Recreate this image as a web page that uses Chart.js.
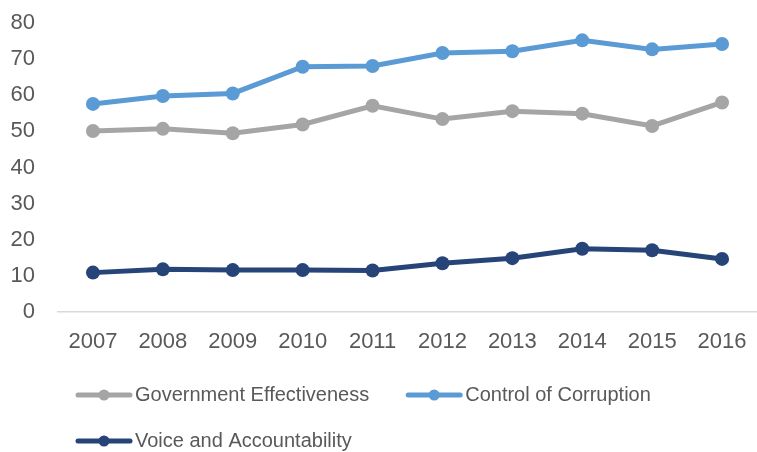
<!DOCTYPE html>
<html>
<head>
<meta charset="utf-8">
<script src="https://cdn.jsdelivr.net/npm/chart.js@4/dist/chart.umd.min.js"></script>
<style>
  html, body { margin: 0; padding: 0; background: #fff; }
  #wrap { width: 757px; height: 452px; position: relative; }
</style>
</head>
<body>
<div id="wrap"><canvas id="c" width="757" height="452"></canvas></div>
<script>
const years = ['2007','2008','2009','2010','2011','2012','2013','2014','2015','2016'];
const govEffectiveness = [50.1, 50.7, 49.5, 51.9, 57.1, 53.4, 55.6, 54.9, 51.5, 58.0];
const controlCorruption = [57.6, 59.8, 60.5, 67.9, 68.1, 71.7, 72.2, 75.2, 72.7, 74.2];
const voiceAccountability = [10.9, 11.8, 11.6, 11.6, 11.5, 13.5, 14.9, 17.5, 17.1, 14.7];
const seriesNames = ['Government Effectiveness', 'Control of Corruption', 'Voice and Accountability'];
const seriesColors = ['#A5A5A5', '#5B9BD5', '#264478'];
const yTicks = [0, 10, 20, 30, 40, 50, 60, 70, 80];

const FONT = "'Liberation Sans', Arial, sans-serif";
const TEXT = '#595959';

function ds(label, data, color) {
  return {
    label, data,
    borderColor: color, backgroundColor: color,
    pointBackgroundColor: color, pointBorderColor: color,
    borderWidth: 5, pointRadius: 7, pointHoverRadius: 7, pointBorderWidth: 0,
    tension: 0, fill: false
  };
}

const legendPlugin = {
  id: 'customLegend',
  afterDraw(chart) {
    const ctx = chart.ctx;
    ctx.save();
    ctx.font = '20px ' + FONT;
    ctx.textBaseline = 'middle';
    ctx.textAlign = 'left';
    const startX = 76, rowY = [395, 441, 487], lineW = 56, gap = 3, spacing = 37, maxRow = 600;
    let x = startX, row = 0;
    chart.data.datasets.forEach((d) => {
      const tw = ctx.measureText(d.label).width;
      const w = lineW + gap + tw;
      if (x > startX && (x - startX) + w > maxRow) { row++; x = startX; }
      const y = rowY[row];
      ctx.strokeStyle = d.borderColor;
      ctx.lineWidth = 5;
      ctx.lineCap = 'round';
      ctx.beginPath(); ctx.moveTo(x + 2, y); ctx.lineTo(x + lineW - 2, y); ctx.stroke();
      ctx.fillStyle = d.borderColor;
      ctx.beginPath(); ctx.arc(x + lineW / 2, y, 5.5, 0, Math.PI * 2); ctx.fill();
      ctx.fillStyle = TEXT;
      ctx.fillText(d.label, x + lineW + gap, y);
      x += w + spacing;
    });
    ctx.restore();
  }
};

new Chart(document.getElementById('c'), {
  type: 'line',
  data: {
    labels: years,
    datasets: [
      ds(seriesNames[0], govEffectiveness, seriesColors[0]),
      ds(seriesNames[1], controlCorruption, seriesColors[1]),
      ds(seriesNames[2], voiceAccountability, seriesColors[2])
    ]
  },
  options: {
    responsive: false,
    animation: false,
    devicePixelRatio: 1,
    layout: { autoPadding: false, padding: { left: 10, right: -4, top: 23, bottom: 97 } },
    plugins: {
      legend: { display: false },
      tooltip: { enabled: false }
    },
    scales: {
      x: {
        offset: true,
        grid: { display: false, drawTicks: false },
        border: { display: true, color: '#D9D9D9', width: 1.5 },
        ticks: { color: TEXT, font: { family: FONT, size: 22 }, padding: 17, maxRotation: 0, autoSkip: false },
        afterFit(axis) { axis.height = 43; axis.paddingLeft = 0; axis.paddingRight = 0; }
      },
      y: {
        min: 0, max: 80,
        afterBuildTicks(axis) { axis.ticks = yTicks.map(v => ({ value: v })); },
        grid: { display: false, drawTicks: false },
        border: { display: false },
        ticks: { color: TEXT, font: { family: FONT, size: 22 }, padding: 23 },
        afterFit(axis) { axis.width = 48; axis.paddingTop = 0; axis.paddingBottom = 0; }
      }
    }
  },
  plugins: [legendPlugin]
});
</script>
</body>
</html>
